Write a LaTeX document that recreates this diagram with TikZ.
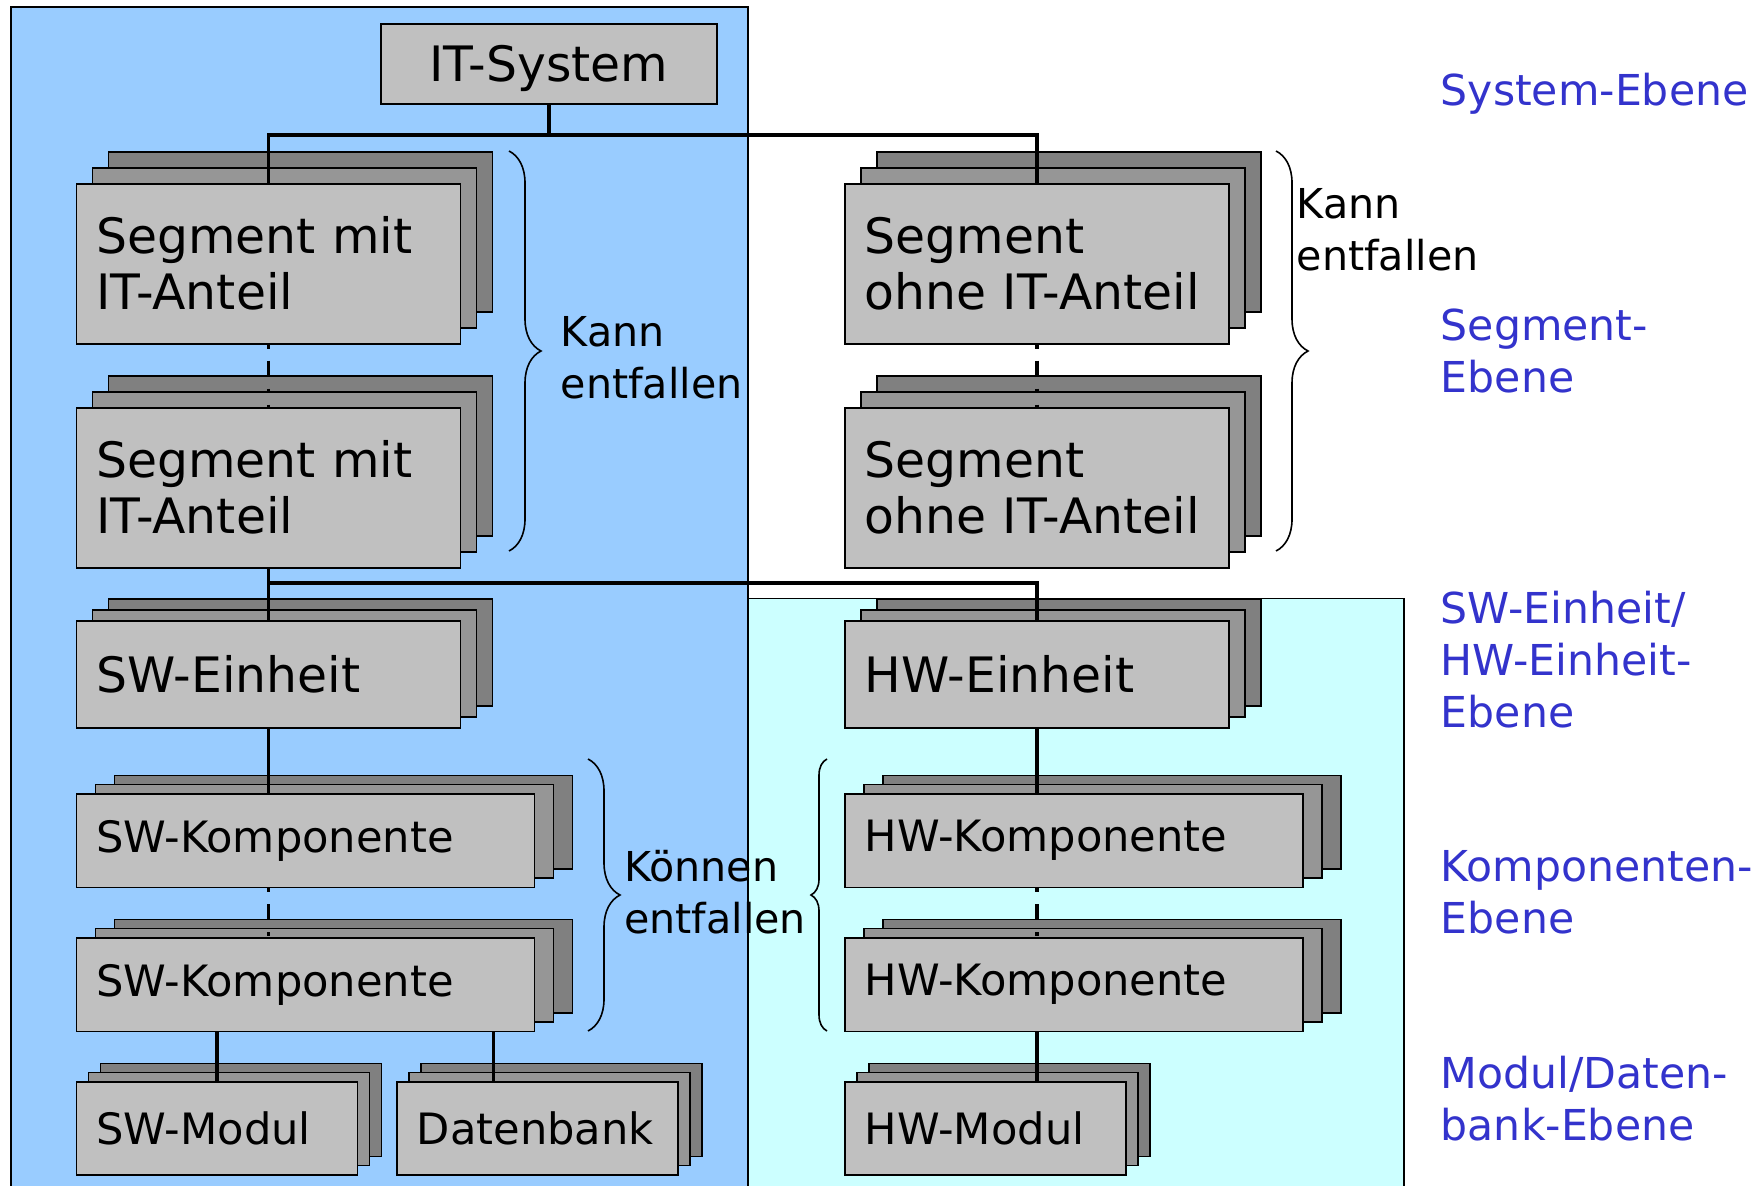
\documentclass[tikz,border=0pt]{standalone}
\usepackage{fontspec}
\setmainfont{DejaVu Sans}
\usetikzlibrary{shadows,decorations.pathreplacing}
\definecolor{panelsw}{RGB}{153,204,255}
\definecolor{panelhw}{RGB}{204,255,255}
\definecolor{boxfront}{RGB}{192,192,192}
\definecolor{boxmid}{RGB}{150,150,150}
\definecolor{boxback}{RGB}{128,128,128}
\definecolor{levelblue}{RGB}{51,51,204}

\begin{document}
\begin{tikzpicture}[x=0.25pt,y=-0.25pt,
    unit/.style={draw,fill=boxfront,line width=0.4pt,anchor=north west,
      align=left,inner xsep=5pt,inner ysep=0pt},
    stack/.style 2 args={unit,
      general shadow={draw=black,fill=boxback,shadow xshift=2*#1,shadow yshift=2*#2},
      general shadow={draw=black,fill=boxmid,shadow xshift=#1,shadow yshift=#2}},
    big/.style={font=\fontsize{12.2}{14}\selectfont},
    small/.style={font=\fontsize{10.8}{12}\selectfont},
    link/.style={line width=0.9pt},
    optlink/.style={link,dash pattern=on 1pt off 3pt on 4pt off 3pt},
    brc/.style={decorate,decoration={brace,amplitude=#1},line width=0.4pt},
    note/.style={anchor=north west,inner sep=0pt,align=left,
      font=\fontsize{10.3}{12.9}\selectfont},
    ebene/.style={note,text=levelblue,font=\fontsize{10.65}{12.9}\selectfont}]
  \useasboundingbox (0,0) rectangle (1764,1186);

  % panels
  \draw[fill=panelsw,line width=0.4pt] (11,7) rectangle (748,1195);
  \draw[fill=panelhw,line width=0.4pt] (748,598.5) rectangle (1404,1195);

  % braces
  \draw[brc=8pt] (509,151) -- (509,551);
  \draw[brc=8pt] (1276,151) -- (1276,551);
  \draw[brc=8pt] (588,759) -- (588,1031);
  \draw[brc=4pt] (827,1031) -- (827,759);
  \node[note] (kann1) at (560,310) {\strut Kann\\entfallen};
  \node[note] (kann2) at (1296,182) {\strut Kann\\entfallen};
  \node[note] (koennen) at (623.5,845) {\strut Können\\entfallen};

  % levels
  \node[ebene] (lvsys) at (1440,69) {\strut System-Ebene};
  \node[ebene] (lvseg) at (1440,304) {\strut Segment-\\Ebene};
  \node[ebene] (lvunit) at (1440,587) {\strut SW-Einheit/\\HW-Einheit-\\Ebene};
  \node[ebene] (lvcomp) at (1440,845) {\strut Komponenten-\\Ebene};
  \node[ebene] (lvmod) at (1440,1051.5) {\strut Modul/Daten-\\bank-Ebene};

  % boxes
  \node[unit,big,minimum width=84pt,minimum height=20pt,inner xsep=0pt,text depth=0pt] (sys) at (380,23) {IT-System};
  \node[stack={4pt}{4pt},big,text width=86pt,minimum height=40pt] (seg1) at (75.5,183) {Segment mit\\IT-Anteil};
  \node[stack={4pt}{4pt},big,text width=86pt,minimum height=40pt] (seg2) at (75.5,407) {Segment mit\\IT-Anteil};
  \node[stack={4pt}{4pt},big,text width=86pt,minimum height=40pt] (segr1) at (844,183) {Segment\\ohne IT-Anteil};
  \node[stack={4pt}{4pt},big,text width=86pt,minimum height=40pt] (segr2) at (844,407) {Segment\\ohne IT-Anteil};
  \node[stack={4pt}{2.7pt},big,text width=86pt,minimum height=26.75pt] (swe) at (75.5,620) {SW-Einheit};
  \node[stack={4pt}{2.7pt},big,text width=86pt,minimum height=26.75pt] (hwe) at (844,620) {HW-Einheit};
  \node[stack={4.75pt}{2.3pt},small,text width=104.5pt,minimum height=23.4pt] (swk1) at (75.5,793) {SW-Komponente};
  \node[stack={4.75pt}{2.3pt},small,text width=104.5pt,minimum height=23.4pt] (swk2) at (75.5,937) {SW-Komponente};
  \node[stack={4.75pt}{2.3pt},small,text width=104.5pt,minimum height=23.4pt] (hwk1) at (844,793) {HW-Komponente};
  \node[stack={4.75pt}{2.3pt},small,text width=104.5pt,minimum height=23.4pt] (hwk2) at (844,937) {HW-Komponente};
  \node[stack={3pt}{2.3pt},small,text width=60.25pt,minimum height=23.25pt] (swmod) at (75.5,1081) {SW-Modul};
  \node[stack={3pt}{2.3pt},small,text width=60.25pt,minimum height=23.25pt] (db) at (396,1081) {Datenbank};
  \node[stack={3pt}{2.3pt},small,text width=60.25pt,minimum height=23.25pt] (hwmod) at (844,1081) {HW-Modul};

  % connectors
  \coordinate (bus1) at (sys.south |- 0,135);
  \coordinate (bus2) at (seg2.south |- 0,583);
  \draw[link] (sys.south) -- (bus1) -| (seg1.north);
  \draw[link] (bus1) -| (segr1.north);
  \draw[optlink] (seg1.south) -- (seg2.north);
  \draw[optlink] (segr1.south) -- (segr2.north);
  \draw[link] (seg2.south) -- (bus2) -- (swe.north);
  \draw[link] (bus2) -| (hwe.north);
  \draw[link] (swe.south) -- (swe.south |- swk1.north);
  \draw[optlink] (swk1.south -| swe.south) -- (swk2.north -| swe.south);
  \draw[link] (swmod.north |- swk2.south) -- (swmod.north);
  \draw[link] ([xshift=-11pt]db.north |- swk2.south) -- ([xshift=-11pt]db.north);
  \draw[link] (hwe.south) -- (hwe.south |- hwk1.north);
  \draw[optlink] (hwk1.south -| hwe.south) -- (hwk2.north -| hwe.south);
  \draw[link] (hwk2.south -| hwe.south) -- (hwe.south |- hwmod.north);
\end{tikzpicture}
\end{document}
